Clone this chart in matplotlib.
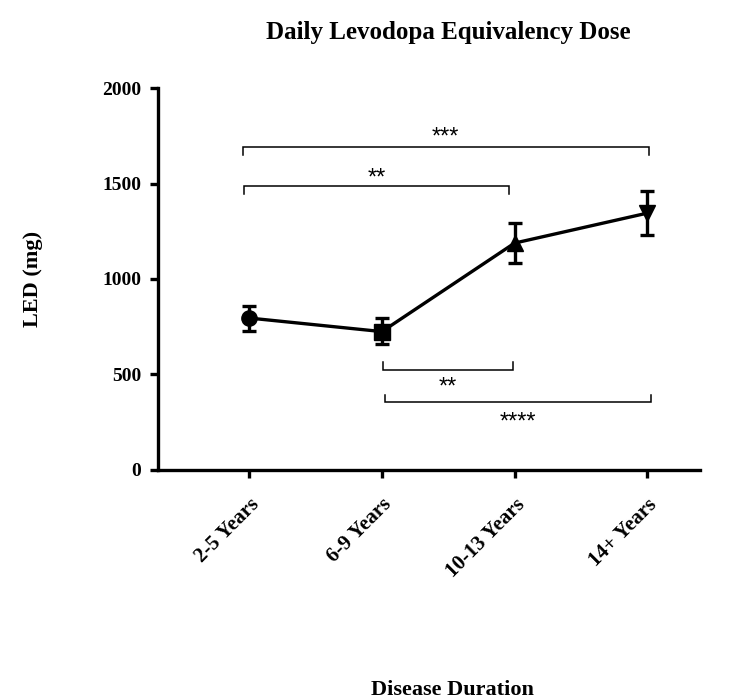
import numpy as np
import matplotlib.pyplot as plt

#-----Data-----#
groups = ["2-5 Years", "6-9 Years", "10-13 Years", "14+ Years"]
led_mean = [795, 724, 1188, 1345]
led_lower = [728, 660, 1083, 1228]
led_upper = [859, 795, 1293, 1459]
markers = ["o", "s", "^", "v"]

# significance brackets: (start, end, bar level, tip level, label, label level)
brackets = [
    (-0.05, 3.01, 1691, 1650, "***", 1766),
    (-0.04, 1.96, 1488, 1446, "**", 1549),
    (1.01, 1.99, 524, 564, "**", 454),
    (1.02, 3.03, 353, 390, "****", 274),
]
#--/--Data--/--#

serif = ["Liberation Serif", "DejaVu Serif"]
sans = ["Liberation Sans", "DejaVu Sans"]

fig = plt.figure(figsize=(7.34, 7.0), dpi=100)
ax = fig.add_axes([0.215, 0.329, 0.739, 0.545])

x = np.arange(len(groups))
mean = np.array(led_mean)
yerr = [mean - np.array(led_lower), np.array(led_upper) - mean]

ax.plot(x, mean, color="black", lw=2.4, zorder=2)
ax.errorbar(x, mean, yerr=yerr, fmt="none", ecolor="black", elinewidth=2.4,
            capsize=5, capthick=2.4, zorder=3)
for xi, yi, m in zip(x, mean, markers):
    ax.plot(xi, yi, marker=m, color="black", markersize=11, zorder=4)

for x0, x1, yb, yt, lab, yl in brackets:
    ax.plot([x0, x0, x1, x1], [yt, yb, yb, yt], color="black", lw=1.1,
            solid_joinstyle="miter", zorder=1)
    # asterisks sit high in the glyph box, nudge down a little
    ax.text((x0 + x1) / 2, yl - 25, lab, ha="center", va="center",
            fontsize=17, family=sans)

ax.set_xlim(-0.69, 3.4)
ax.set_ylim(0, 2000)
ax.set_yticks([0, 500, 1000, 1500, 2000])
ax.set_xticks(x)
ax.set_xticklabels(groups, rotation=45, ha="right", rotation_mode="anchor",
                   fontsize=15, fontweight="bold", family=serif)
for lab in ax.get_yticklabels():
    lab.set_fontsize(14)
    lab.set_fontweight("bold")
    lab.set_family(serif)

for side in ["top", "right"]:
    ax.spines[side].set_visible(False)
for side in ["left", "bottom"]:
    ax.spines[side].set_linewidth(2.4)
ax.tick_params(direction="out", length=6, width=2.4, pad=6)
ax.tick_params(axis="x", pad=12)

ax.set_ylabel("LED (mg)", fontsize=16, fontweight="bold", family=serif)
ax.yaxis.set_label_coords(-0.212, 0.5)
fig.text(452 / 734, 1 - 690 / 700, "Disease Duration", ha="center",
         va="center", fontsize=16, fontweight="bold", family=serif)
fig.text(448 / 734, 1 - 33 / 700, "Daily Levodopa Equivalency Dose",
         ha="center", va="center", fontsize=18, fontweight="bold",
         family=serif)

fig.savefig("out.png", dpi=100)
